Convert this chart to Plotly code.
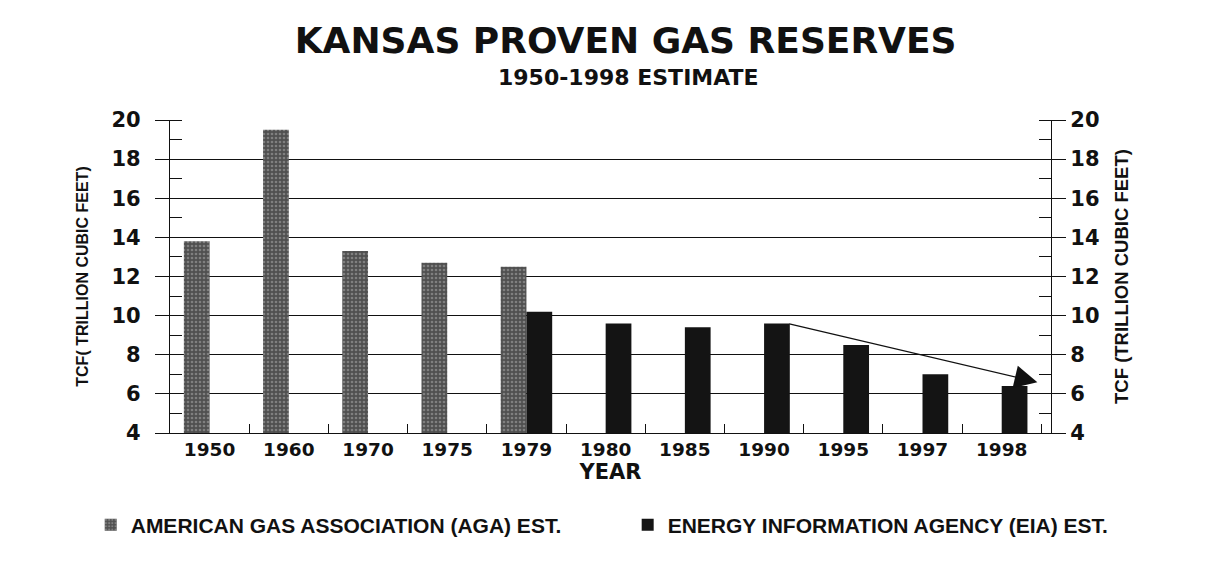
import plotly.graph_objects as go

# valeurs (TCF)
YEARS = ['1950', '1960', '1970', '1975', '1979', '1980', '1985', '1990', '1995', '1997', '1998']
AGA = [13.8, 19.5, 13.3, 12.7, 12.5, None, None, None, None, None, None]
EIA = [None, None, None, None, 10.2, 9.6, 9.4, 9.6, 8.5, 7.0, 6.4]
Y_TICKS = [4, 6, 8, 10, 12, 14, 16, 18, 20]
TREND_END = 6.6

BOLD = 'DejaVu Sans, Arial Black, sans-serif'
NARROW = 'Liberation Sans, Arial, sans-serif'
INK = '#111111'

fig = go.Figure()
fig.add_trace(go.Bar(
    x=YEARS, y=AGA, name='AMERICAN GAS ASSOCIATION (AGA) EST.',
    marker=dict(color='#5a5a5a', line=dict(width=0),
                pattern=dict(shape='.', fgcolor='#b0b0b0', bgcolor='#505050',
                             size=4, solidity=0.35)),
    legend='legend',
))
fig.add_trace(go.Bar(
    x=YEARS, y=EIA, name='ENERGY INFORMATION AGENCY (EIA) EST.',
    marker=dict(color='#141414', line=dict(width=0)),
    legend='legend2',
))
# trace vide pour faire apparaître l'axe de droite
fig.add_trace(go.Scatter(x=YEARS, y=EIA, mode='none', yaxis='y2',
                         showlegend=False, hoverinfo='skip'))

# flèche de tendance 1990 -> 1998
fig.add_annotation(
    x=10.45, y=TREND_END, ax=7.3, ay=EIA[YEARS.index('1990')],
    xref='x', yref='y', axref='x', ayref='y',
    text='', showarrow=True, arrowhead=2, arrowsize=3.5, arrowwidth=1.3,
    arrowcolor=INK,
)

fig.add_annotation(
    text='1950-1998 ESTIMATE', x=0.52, y=(425 - 69) / 313,
    xref='paper', yref='paper', showarrow=False, yanchor='middle',
    font=dict(family=BOLD, size=22, color=INK, weight='bold'),
)

axis_common = dict(
    range=[4, 20], tickvals=Y_TICKS, showline=True, linecolor=INK,
    linewidth=1.3, ticks='outside', ticklen=14, tickcolor=INK,
    tickfont=dict(family=BOLD, size=21, color=INK, weight='bold'),
    minor=dict(dtick=1, ticks='inside', ticklen=12, tickcolor=INK, showgrid=False),
    zeroline=False,
)

legend_common = dict(orientation='h', y=-0.294, xanchor='left', yanchor='middle',
                     font=dict(family=NARROW, size=21, color=INK, weight='bold'),
                     bgcolor='rgba(0,0,0,0)')

fig.update_layout(
    width=1211, height=573,
    margin=dict(l=162, r=168, t=112, b=148),
    paper_bgcolor='white', plot_bgcolor='white',
    barmode='group', bargap=0.35, bargroupgap=0,
    title=dict(text='KANSAS PROVEN GAS RESERVES', x=0.51, xanchor='center',
               y=1 - 32 / 573, yanchor='middle', yref='container',
               font=dict(family=BOLD, size=36, color=INK, weight='bold')),
    xaxis=dict(
        type='category', tickson='boundaries', ticks='inside', ticklen=9,
        tickcolor=INK, showline=True, linecolor=INK, linewidth=1.3,
        tickfont=dict(family=BOLD, size=18.5, color=INK, weight='bold'),
        title=dict(text='YEAR', standoff=0,
                   font=dict(family=BOLD, size=21, color=INK, weight='bold')),
        showgrid=False,
    ),
    yaxis=dict(
        **axis_common, showgrid=True, gridcolor=INK, gridwidth=1.3,
        ticklabelstandoff=10,
        title=dict(text='TCF( TRILLION CUBIC FEET)', standoff=18,
                   font=dict(family=NARROW, size=16, color=INK, weight='bold')),
    ),
    yaxis2=dict(
        **axis_common, overlaying='y', side='right', anchor='x', showgrid=False,
        title=dict(text='TCF (TRILLION CUBIC FEET)', standoff=16,
                   font=dict(family=NARROW, size=18.5, color=INK, weight='bold')),
    ),
    showlegend=True,
    legend=dict(**legend_common, x=-0.09),
    legend2=dict(**legend_common, x=0.5195),
)

fig.write_html('out.html')
